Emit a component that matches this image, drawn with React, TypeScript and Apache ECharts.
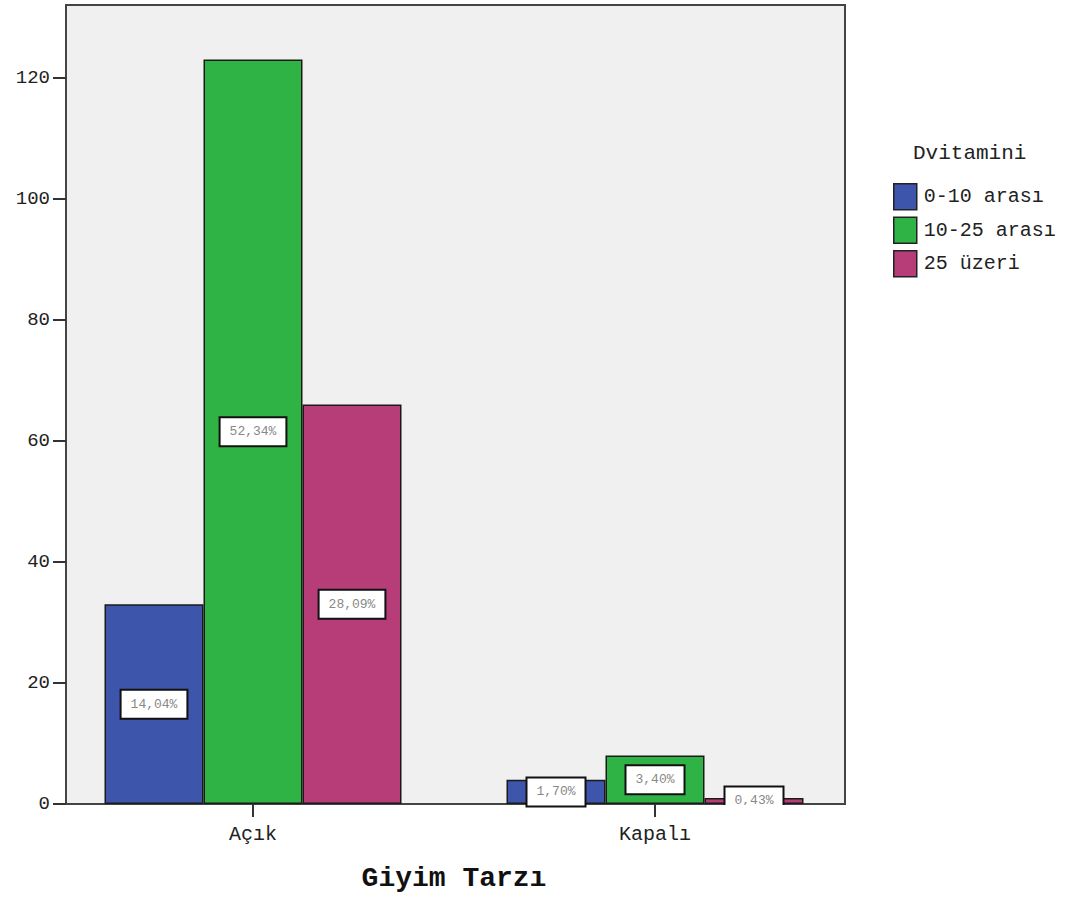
import React, { useEffect, useRef } from "react";
import * as echarts from "echarts";

const categories = ["Açık", "Kapalı"];
const seriesNames = ["0-10 arası", "10-25 arası", "25 üzeri"];
const seriesColors = ["#3d55ab", "#2fb344", "#b73d79"];
const values0to10 = [33, 4];
const values10to25 = [123, 8];
const values25plus = [66, 1];
const yTicks = [0, 20, 40, 60, 80, 100, 120];

const allSeries = [values0to10, values10to25, values25plus];
const total = allSeries.reduce((s, arr) => s + arr.reduce((a, b) => a + b, 0), 0);
const pct = (v: number) => ((v / total) * 100).toFixed(2).replace(".", ",") + "%";

const FONT = "'Liberation Mono', 'DejaVu Sans Mono', monospace";

export default function App() {
  const ref = useRef<HTMLDivElement>(null);
  useEffect(() => {
    if (!ref.current) return;
    const chart = echarts.init(ref.current, null, { renderer: "svg" });
    chart.setOption({
      animation: false,
      backgroundColor: "#ffffff",
      title: {
        text: "Dvitamini",
        left: 913,
        top: 143,
        textStyle: { fontFamily: FONT, fontSize: 21, fontWeight: "normal", color: "#222" },
        padding: 0,
      },
      legend: {
        orient: "vertical",
        left: 893,
        top: 183,
        padding: 0,
        itemWidth: 23,
        itemHeight: 26,
        itemGap: 6,
        icon: "rect",
        data: seriesNames,
        itemStyle: { borderColor: "#222", borderWidth: 1.5 },
        textStyle: { fontFamily: FONT, fontSize: 20, color: "#222", padding: [0, 0, 0, 2] },
      },
      grid: [
        {
          left: 66,
          right: 239,
          top: 5,
          bottom: 95,
          show: true,
          backgroundColor: "#f0f0f0",
          borderColor: "#444",
          borderWidth: 2,
        },
        { left: 52, right: 228, top: 5, bottom: 95 },
      ],
      xAxis: [
        { type: "value", gridIndex: 0, show: false, min: 0, max: 1 },
        {
          type: "category",
          gridIndex: 1,
          data: categories,
          axisLine: { show: false },
          axisTick: { show: true, alignWithLabel: true, length: 13, lineStyle: { color: "#333", width: 2 } },
          axisLabel: { fontFamily: FONT, fontSize: 20, color: "#222", margin: 20 },
          name: "Giyim Tarzı",
          nameLocation: "middle",
          nameGap: 60,
          nameTextStyle: { fontFamily: FONT, fontSize: 28, fontWeight: "bold", color: "#111" },
        },
      ],
      yAxis: [
        {
          type: "value",
          gridIndex: 0,
          min: 0,
          max: 132,
          interval: 20,
          axisLine: { show: true, lineStyle: { color: "#444", width: 2 } },
          axisTick: { show: true, length: 13, customValues: yTicks, lineStyle: { color: "#333", width: 2 } },
          axisLabel: { fontFamily: FONT, fontSize: 19, color: "#222", margin: 16, customValues: yTicks },
          splitLine: { show: false },
        },
        { type: "value", gridIndex: 1, min: 0, max: 132, show: false },
      ],
      graphic: [
        {
          type: "rect",
          z: 1000,
          shape: { x: 715, y: 805, width: 80, height: 14 },
          style: { fill: "#ffffff" },
        },
      ],
      series: allSeries.map((vals, i) => ({
        type: "bar",
        name: seriesNames[i],
        xAxisIndex: 1,
        yAxisIndex: 1,
        data: vals,
        barWidth: 99,
        barGap: "0%",
        itemStyle: { color: seriesColors[i], borderColor: "#1a1a1a", borderWidth: 1.5 },
        label: {
          show: true,
          position: "inside",
          formatter: (p: any) => pct(p.value),
          fontFamily: FONT,
          fontSize: 13,
          color: "#888",
          backgroundColor: "#ffffff",
          borderColor: "#111",
          borderWidth: 2,
          padding: [7, 9],
        },
      })),
    });
    return () => chart.dispose();
  }, []);
  return <div ref={ref} style={{ position: "fixed", left: 0, top: 0, width: 1084, height: 899 }} />;
}
